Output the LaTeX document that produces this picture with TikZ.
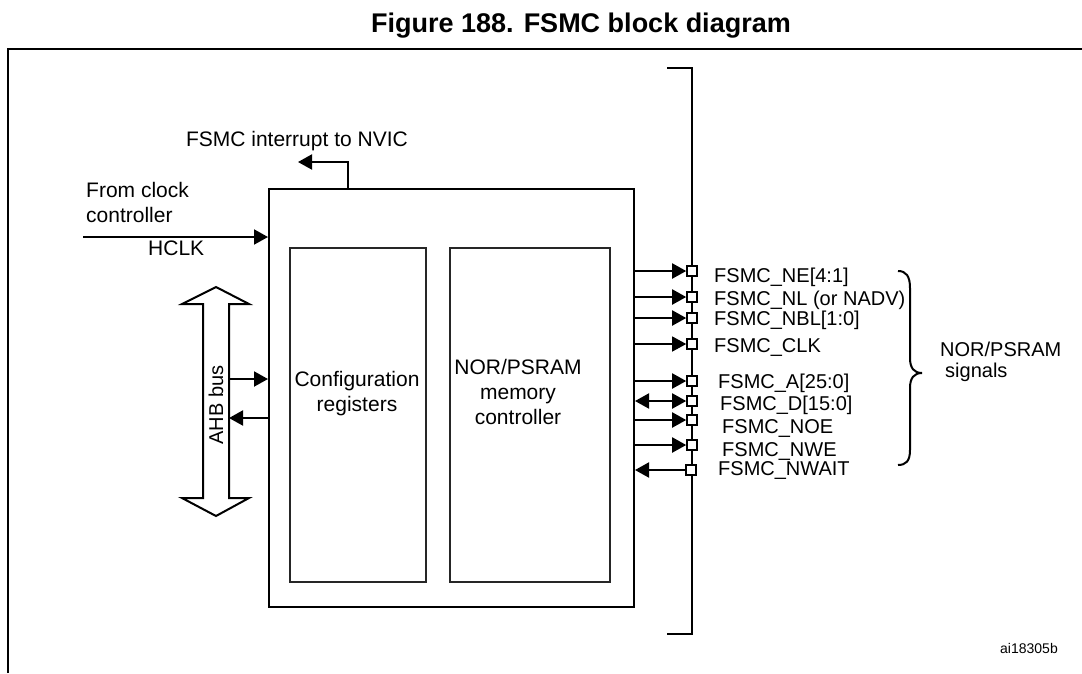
\documentclass[tikz,border=0pt]{standalone}
\usepackage{fontspec}
\setmainfont{Liberation Sans}
\usetikzlibrary{arrows.meta}
\newcommand{\fA}{\fontsize{21}{25}\selectfont}
\newcommand{\fS}{\fontsize{20}{24}\selectfont}
\begin{document}
\begin{tikzpicture}[x=1pt,y=-1pt,
  line/.style={line width=2pt},
  thin line/.style={line width=1.2pt},
  tip/.style={-{Triangle[length=14pt,width=15pt]}},
  both tips/.style={{Triangle[length=14pt,width=15pt]}-{Triangle[length=14pt,width=15pt]}},
  box/.style={draw, line width=2pt, inner sep=0pt, anchor=north west},
  inbox/.style={draw=black!85, line width=2pt, inner sep=0pt, anchor=north west},
  pinbox/.style={draw, line width=1.6pt, fill=white, minimum size=10pt, inner sep=0pt},
  sig/.style={anchor=base west, font=\fS, inner sep=0pt},
  txt/.style={font=\fA, inner sep=0pt, align=center}]
\useasboundingbox (0,0) rectangle (1082,673);

% title and outer frame
\node[font=\bfseries\fontsize{27}{30}\selectfont, anchor=base, inner sep=0pt] (title) at (581,32) {Figure 188. FSMC block diagram};
\coordinate (fbl) at (8,673);
\coordinate (ftl) at (8,49);
\coordinate (ftr) at (1082,49);
\draw[line width=2.5pt] (fbl) -- (ftl) -- (ftr);

% external bus bracket
\coordinate (bt0) at (667,68);
\coordinate (bt) at (692,68);
\coordinate (bb) at (692,634);
\coordinate (bb0) at (667,634);
\draw[line width=2.5pt] (bt0) -- (bt) -- (bb) -- (bb0);

% FSMC block and inner blocks
\node[box, minimum width=365pt, minimum height=418pt] (fsmc) at (268,188) {};
\node[inbox, minimum width=136pt, minimum height=334pt] (cfg) at (289,247) {};
\node[inbox, minimum width=160pt, minimum height=334pt] (nor) at (449,247) {};
\node[txt] (cfgtxt) at (357,394) {Configuration\\registers};
\node[txt] (nortxt) at (518,392) {NOR/PSRAM\\memory\\controller};

% interrupt
\coordinate (irq) at (348,162);
\coordinate (irqend) at (298,162);
\draw[line, tip] (fsmc.north -| irq) -- (irq) -- (irqend);
\node[font=\fA, anchor=base east, inner sep=0pt] (irqtxt) at (408,146) {FSMC interrupt to NVIC};

% clock
\coordinate (clkin) at (83,237);
\draw[line, tip] (clkin) -- (clkin -| fsmc.west);
\node[font=\fA, anchor=north west, inner sep=0pt, align=left] (clktxt) at (86,182) {From clock\\controller};
\node[font=\fA, anchor=base west, inner sep=0pt] (hclk) at (148,255) {HCLK};

% AHB bus
\coordinate (ahbtop) at (216,287);
\coordinate (ahbbot) at (216,516);
\draw[line] (ahbtop) -- (249,304) -- (229,304) -- (229,498) -- (249,498) -- (ahbbot)
  -- (182,498) -- (203,498) -- (203,304) -- (182,304) -- cycle;
\node[font=\fS, rotate=90, inner sep=0pt] (ahbtxt) at (216,405) {AHB bus};
\coordinate (ahb1) at (229,379);
\coordinate (ahb2) at (229,418);
\draw[line, tip] (ahb1) -- (ahb1 -| fsmc.west);
\draw[line, tip] (ahb2 -| fsmc.west) -- (ahb2);

% signal pins
\node[pinbox] (p1) at (692,271) {};
\node[pinbox] (p2) at (692,297) {};
\node[pinbox] (p3) at (692,318) {};
\node[pinbox] (p4) at (692,344) {};
\node[pinbox] (p5) at (692,381) {};
\node[pinbox] (p6) at (692,401) {};
\node[pinbox] (p7) at (692,420) {};
\node[pinbox] (p8) at (692,445) {};
\node[pinbox] (p9) at (691,470) {};
\draw[line, tip] (p1.west -| fsmc.east) -- (p1.west);
\draw[line, tip] (p2.west -| fsmc.east) -- (p2.west);
\draw[line, tip] (p3.west -| fsmc.east) -- (p3.west);
\draw[thin line, tip] (p4.west -| fsmc.east) -- (p4.west);
\draw[line, tip] (p5.west -| fsmc.east) -- (p5.west);
\draw[line, both tips] (p6.west -| fsmc.east) -- (p6.west);
\draw[line, tip] (p7.west -| fsmc.east) -- (p7.west);
\draw[line, tip] (p8.west -| fsmc.east) -- (p8.west);
\draw[line, tip] (p9.west) -- (p9.west -| fsmc.east);
\foreach \n in {p1,p2,p3,p4,p5,p6,p7,p8,p9} \node[pinbox] at (\n) {};

\node[sig] (s1) at (714,282) {FSMC\_NE[4:1]};
\node[sig] (s2) at (714,305) {FSMC\_NL (or NADV)};
\node[sig] (s3) at (714,325) {FSMC\_NBL[1:0]};
\node[sig] (s4) at (714,352) {FSMC\_CLK};
\node[sig] (s5) at (718,388) {FSMC\_A[25:0]};
\node[sig] (s6) at (720,410) {FSMC\_D[15:0]};
\node[sig] (s7) at (722,433) {FSMC\_NOE};
\node[sig] (s8) at (722,456) {FSMC\_NWE};
\node[sig] (s9) at (718,475) {FSMC\_NWAIT};

% brace
\coordinate (brtop) at (898,271);
\coordinate (brtip) at (922,373);
\coordinate (brbot) at (898,465);
\draw[line] (brtop) .. controls (906,271) and (910,276) .. (910,288) -- (910,358)
  .. controls (910,368) and (914,373) .. (brtip)
  .. controls (914,373) and (910,378) .. (910,388) -- (910,450)
  .. controls (910,461) and (906,465) .. (brbot);
\node[font=\fontsize{20}{21}\selectfont, anchor=west, inner sep=0pt, align=left] (grp) at (940,362) {NOR/PSRAM\\\hspace*{5pt}signals};

\node[font=\fontsize{14}{16}\selectfont, anchor=base east, inner sep=0pt] (ref) at (1058,653) {ai18305b};
\end{tikzpicture}
\end{document}
